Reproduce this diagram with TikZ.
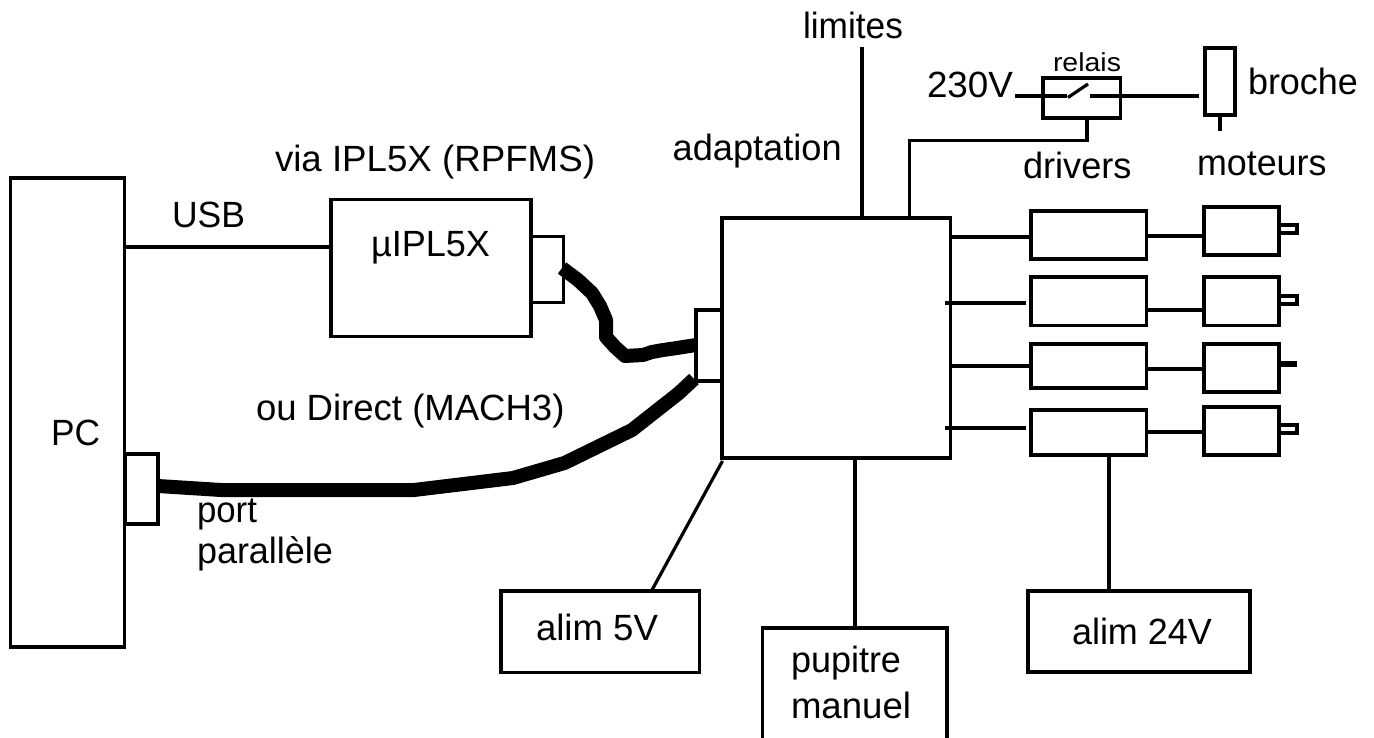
\documentclass[tikz,border=0pt]{standalone}
\usepackage{fontspec}
\usepackage{graphicx}
\setmainfont{Liberation Sans}
\newcommand\bx[5]{\node[boxn,minimum width={#4-#2},minimum height={#5-#3}] (#1) at ({(#2+#4)/2},{(#3+#5)/2}) {};}
\newcommand\tx[6][36.5]{\node[lab,anchor=base west] (#2) at (#3,#4) {\resizebox{#5pt}{\height}{\fontsize{#1}{#1}\selectfont #6}};}
\tikzset{
  boxn/.style={draw=black,line width=3.3pt,inner sep=0pt,outer sep=0pt,rectangle},
  lab/.style={inner sep=0pt,outer sep=0pt,text=black},
  wire/.style={draw=black,line width=3.2pt},
  cable/.style={draw=black,line width=14pt,line join=round},
}
\begin{document}
\begin{tikzpicture}[x=1pt,y=-1pt]
\useasboundingbox (0,0) rectangle (1374,738);
% boxes
\bx{pc}{10.5}{178}{124.5}{647}
\bx{lport}{125}{454}{158}{524}
\bx{ipl}{331}{199.5}{531}{336.5}
\bx{uport}{531}{236.5}{563.5}{302.5}
\bx{adapt}{722}{218}{950.5}{458}
\bx{aport}{696}{310}{722}{381}
\bx{d1}{1031}{211}{1146.5}{259}
\bx{d2}{1031}{277}{1146.5}{325.5}
\bx{d3}{1031}{344}{1146.5}{388}
\bx{d4}{1031}{410}{1146.5}{455}
\bx{m1}{1204}{207}{1279}{255}
\bx{m2}{1204}{277}{1279}{325.5}
\bx{m3}{1204}{344}{1279}{392}
\bx{m4}{1204}{407}{1279}{455}
\bx{s1}{1279}{225}{1297}{233}
\bx{s2}{1279}{296}{1297}{304}
\bx{s4}{1279}{425}{1297}{433}
\bx{relay}{1043}{78}{1120.5}{118}
\bx{broche}{1205}{48}{1235}{115}
\bx{a5}{501}{591}{699.5}{672.5}
\bx{pup}{762.5}{628}{947}{760}
\bx{a24}{1028}{591}{1250}{672}
% shaft 3 is solid
\coordinate (s3) at (1297,364);
% wires
\draw[wire] (pc.east |- 0,247) -- (ipl.west |- 0,247);
\draw[wire] (adapt.east |- 0,237) -- (d1.west |- 0,237);
\draw[wire] (945,303) coordinate (c2a) -- (1026,303) coordinate (c2b);
\draw[wire] (adapt.east |- 0,366) -- (d3.west |- 0,366);
\draw[wire] (945,428) coordinate (c4a) -- (1026,428) coordinate (c4b);
\draw[wire] (d1.east |- 0,236) -- (m1.west |- 0,236);
\draw[wire] (d2.east |- 0,310) -- (m2.west |- 0,310);
\draw[wire] (d3.east |- 0,369) -- (m3.west |- 0,369);
\draw[wire] (d4.east |- 0,432) -- (m4.west |- 0,432);
\draw[draw=black,line width=6pt] (m3.east |- s3) -- (s3);
\coordinate (lim) at (862,47);
\draw[wire] (lim) -- (lim |- adapt.north);
\draw[wire] (909.5,218) -- (909.5,140.5) -- (1087,140.5) -- (1087,118);
\coordinate (v230) at (1015,96);
\coordinate (swa) at (1067,96);
\coordinate (swb) at (1090,96);
\coordinate (brw) at (1199,96);
\draw[wire] (v230) -- (swa);
\draw[wire] (1068,97.5) -- (1088,84);
\draw[wire] (swb) -- (brw);
\coordinate (stem) at (1220,131);
\draw[wire] (stem |- broche.south) -- (stem);
\draw[wire] (722.5,461) -- (652,590);
\draw[wire] (855,458) -- (855,628);
\draw[wire] (1109,455) -- (1109,591);
% cables
\draw[cable] (562,268) -- (578,280) -- (592,293) -- (600,306) -- (606,320) -- (606,337) -- (615,347) -- (625,356) -- (643,355) -- (652,352) -- (663,350) -- (677,348) -- (aport.west |- 0,345);
\draw[cable] (lport.east |- 0,486) -- (221,490) -- (414,490) -- (513,478) -- (564.5,463) -- (632,430) -- (679,393) -- (694,379);
% texts
\tx{tlim}{803}{39}{100}{limites}
\tx{t230}{927}{97.7}{86}{230V}
\tx[26]{trel}{1053}{71.7}{68}{relais}
\tx{tbro}{1248}{94.3}{110}{broche}
\tx{tdri}{1023}{178.3}{108.5}{drivers}
\tx{tmot}{1197}{175.7}{129.5}{moteurs}
\tx{tada}{672.7}{160.7}{169}{adaptation}
\tx{tvia}{275}{171.7}{320}{via IPL5X (RPFMS)}
\tx{tusb}{172}{227.7}{73}{USB}
\tx{tipl}{371}{256.7}{119}{µIPL5X}
\tx{tpc}{51}{445}{49}{PC}
\tx{tou}{256}{420}{308.5}{ou Direct (MACH3)}
\tx{tport}{197}{522.3}{60}{port}
\tx{tpar}{197}{563}{136}{parallèle}
\tx{ta5}{536}{640}{122}{alim 5V}
\tx{tpup}{791}{672.7}{110}{pupitre}
\tx{tman}{791}{718}{120}{manuel}
\tx{ta24}{1072}{644}{140}{alim 24V}
\end{tikzpicture}
\end{document}
